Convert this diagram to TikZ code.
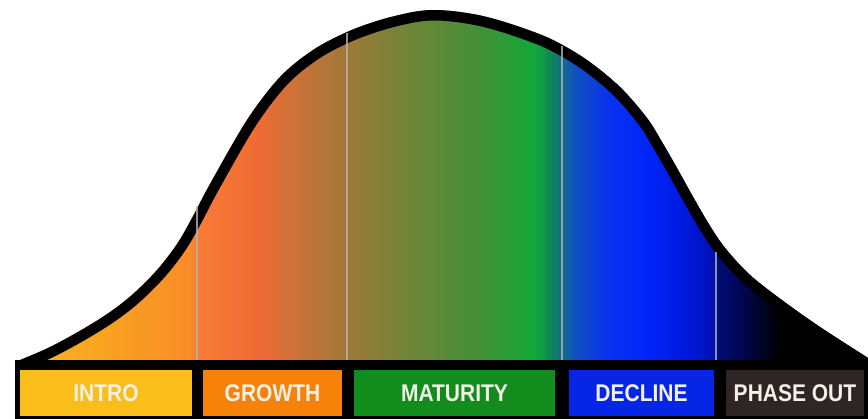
\documentclass[tikz,border=0pt]{standalone}
\usepackage{fontspec}
\setmainfont{Liberation Sans}
\usepackage{graphicx}
\definecolor{g0}{HTML}{F9B820}
\definecolor{g1}{HTML}{F9A420}
\definecolor{g2}{HTML}{F98C28}
\definecolor{g3}{HTML}{F97C36}
\definecolor{g4}{HTML}{EE6A34}
\definecolor{g5}{HTML}{C8733A}
\definecolor{g6}{HTML}{A27838}
\definecolor{g7}{HTML}{848038}
\definecolor{g8}{HTML}{628838}
\definecolor{g9}{HTML}{429038}
\definecolor{g10}{HTML}{22A038}
\definecolor{g11}{HTML}{10A83A}
\definecolor{g12}{HTML}{108C50}
\definecolor{g13}{HTML}{107080}
\definecolor{g14}{HTML}{1050C0}
\definecolor{g15}{HTML}{0830F0}
\definecolor{g16}{HTML}{0024F8}
\definecolor{g17}{HTML}{0018D8}
\definecolor{g18}{HTML}{0010B0}
\definecolor{g19}{HTML}{000C78}
\definecolor{g20}{HTML}{000540}
\definecolor{g21}{HTML}{000000}
\definecolor{introc}{HTML}{F9BE1A}
\definecolor{growthc}{HTML}{F6820A}
\definecolor{maturc}{HTML}{128C1C}
\definecolor{declc}{HTML}{0626E6}
\definecolor{phasec}{HTML}{2E2624}
\definecolor{labelc}{HTML}{F4F0E8}
\definecolor{glinec}{HTML}{B4B4B4}
\begin{document}
\begin{tikzpicture}[x=1pt,y=-1pt,
  box/.style={draw=none, minimum height=46pt, inner sep=0pt, text=labelc,
    font=\bfseries\fontsize{21}{21}\selectfont},
  gline/.style={draw=glinec, line width=1.6pt, draw opacity=0.8},
  outline/.style={draw=black, line width=21pt, line join=round}]
\useasboundingbox (0,0) rectangle (868,419);
\fill[white] (0,0) rectangle (868,419);
\def\outer{plot[smooth,tension=0.55] coordinates {(15,362) (20,360) (50,347) (83,329) (110,312) (133,294) (157,270) (177,244) (192,218) (210,184) (247,120) (280,77) (313,50) (347,32) (380,20) (413,12) (435,10) (460,12) (487,17) (520,27) (553,40) (587,60) (620,87) (647,118) (662,142) (677,168) (692,195) (707,221) (722,244) (740,265) (757,281) (790,306) (823,329) (868,358) (880,366)}}
\begin{scope}
  \clip \outer -- (880,372) -- (15,372) -- cycle;
  \foreach \xa/\xb/\ca/\cb in {10/100/g0/g1, 100/190/g1/g2, 190/198/g2/g3, 198/260/g3/g4, 260/300/g4/g5, 300/345/g5/g6, 345/380/g6/g7, 380/430/g7/g8, 430/480/g8/g9, 480/515/g9/g10, 515/535/g10/g11, 535/548/g11/g12, 548/560/g12/g13, 560/575/g13/g14, 575/610/g14/g15, 610/650/g15/g16, 650/690/g16/g17, 690/714/g17/g18, 714/718/g18/g19, 718/750/g19/g20, 750/780/g20/g21, 780/880/g21/g21}
    \shade[left color=\ca, right color=\cb] (\xa-0.4,0) rectangle (\xb+0.4,372);
  \draw[outline] \outer;
\end{scope}
\draw[gline] (197,206) -- (197,361);
\draw[gline] (347,33) -- (347,361);
\draw[gline] (562,46) -- (562,361);
\draw[gline] (716,252) -- (716,361);
\fill[black] (15,360) rectangle (868,419);
\node[box, fill=introc, minimum width=172pt] (intro) at (106,393) {\scalebox{1}[1.15]{INTRO}};
\node[box, fill=growthc, minimum width=139pt] (growth) at (272.5,393) {\scalebox{1}[1.15]{GROWTH}};
\node[box, fill=maturc, minimum width=201pt] (maturity) at (454.5,393) {\scalebox{1}[1.15]{MATURITY}};
\node[box, fill=declc, minimum width=145pt] (decline) at (641.5,393) {\scalebox{1}[1.15]{DECLINE}};
\node[box, fill=phasec, minimum width=138pt] (phaseout) at (795,393) {\scalebox{1}[1.15]{PHASE OUT}};
\end{tikzpicture}
\end{document}
